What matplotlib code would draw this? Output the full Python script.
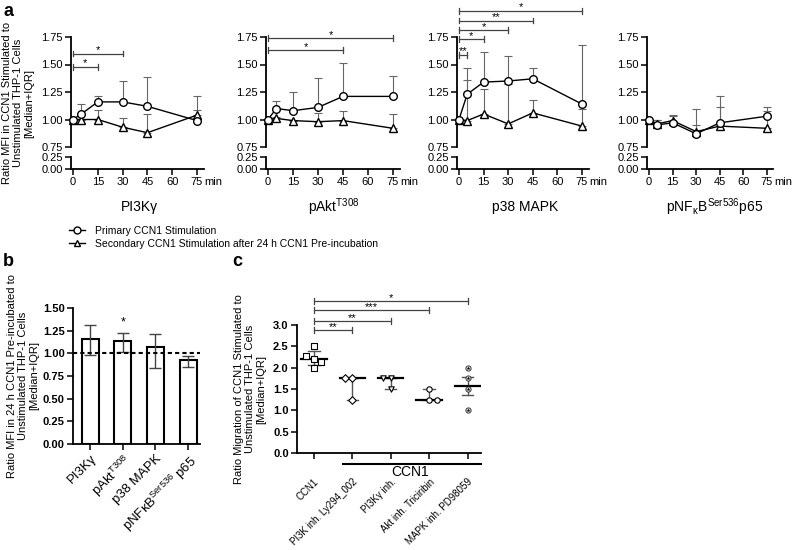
import numpy as np
import matplotlib
matplotlib.use('Agg')
import matplotlib.pyplot as plt
from matplotlib.lines import Line2D

plt.rcParams['font.family'] = ['Liberation Sans', 'DejaVu Sans']
plt.rcParams['mathtext.fontset'] = 'custom'
plt.rcParams['mathtext.rm'] = 'Liberation Sans'
plt.rcParams['mathtext.it'] = 'Liberation Sans:italic'
plt.rcParams['mathtext.bf'] = 'Liberation Sans:bold'

W, H = 793, 550

# ---- panel a data ----
times = [0, 5, 15, 30, 45, 75]
a_titles = ['PI3Kγ', 'pAkt$^{\\mathrm{T308}}$', 'p38 MAPK',
            'pNF$_{\\mathrm{κ}}$B$^{\\mathrm{Ser536}}$p65']
prim_med = [[1.00, 1.05, 1.16, 1.16, 1.12, 0.99],
            [1.00, 1.10, 1.08, 1.11, 1.21, 1.21],
            [1.00, 1.23, 1.34, 1.35, 1.37, 1.14],
            [1.00, 0.95, 0.97, 0.87, 0.97, 1.03]]
prim_up = [[1.00, 1.14, 1.21, 1.35, 1.39, 1.09],
           [1.00, 1.17, 1.25, 1.38, 1.51, 1.40],
           [1.00, 1.47, 1.61, 1.58, 1.47, 1.68],
           [1.00, 1.00, 1.03, 0.95, 1.21, 1.11]]
sec_med = [[1.00, 1.00, 1.00, 0.93, 0.88, 1.04],
           [1.00, 1.01, 0.99, 0.98, 0.99, 0.92],
           [1.00, 0.99, 1.05, 0.96, 1.06, 0.94],
           [1.00, 0.96, 0.99, 0.89, 0.94, 0.92]]
sec_up = [[1.00, 1.00, 1.09, 1.01, 1.05, 1.21],
          [1.00, 1.02, 1.00, 1.06, 1.08, 1.05],
          [1.00, 1.36, 1.28, 1.32, 1.18, 1.10],
          [1.00, 1.00, 1.04, 1.10, 1.11, 1.08]]
# significance: (end time, stars, bracket height)
a_sig = [[(15, '*', 1.48), (30, '*', 1.60)],
         [(45, '*', 1.63), (75, '*', 1.74)],
         [(5, '**', 1.59), (15, '*', 1.73), (30, '*', 1.81), (45, '**', 1.90), (75, '*', 1.99)],
         []]
legend_labels = ['Primary CCN1 Stimulation',
                 'Secondary CCN1 Stimulation after 24 h CCN1 Pre-incubation']

# ---- panel b data ----
b_labels = ['PI3Kγ', 'pAkt$^{\\mathrm{T308}}$', 'p38 MAPK', 'pNFκB$^{\\mathrm{Ser536}}$ p65']
b_med = [1.16, 1.14, 1.07, 0.93]
b_q1 = [0.98, 1.01, 0.84, 0.85]
b_q3 = [1.31, 1.22, 1.21, 0.97]
b_star = [None, '*', None, None]

# ---- panel c data ----
c_labels = ['CCN1', 'PI3K inh. Ly294_002', 'PI3Kγ inh.', 'Akt inh. Triciribin', 'MAPK inh. PD98059']
c_points = [[2.27, 2.5, 2.2, 2.13, 2.0],
            [1.75, 1.75, 1.25],
            [1.75, 1.75, 1.5],
            [1.5, 1.25, 1.25],
            [2.0, 1.75, 1.5, 1.0]]
c_median = [2.2, 1.75, 1.75, 1.25, 1.57]
c_q1 = [2.07, 1.25, 1.5, 1.25, 1.35]
c_q3 = [2.38, 1.75, 1.75, 1.5, 1.78]
# significance: (from, to, stars, height)
c_sig = [(0, 4, '*', 3.56), (0, 3, '***', 3.35), (0, 2, '**', 3.09), (0, 1, '**', 2.88)]

# layout helpers
c_jitter = [[-0.21, 0, 0, 0.18, 0], [-0.2, 0, 0], [-0.2, 0, 0], [0, 0, 0.2], [0, 0, 0, 0]]
c_markers = ['s', 'D', 'v', 'o', 'o']


def rect(l, t, r, b):
    return [l / W, 1 - b / H, (r - l) / W, (b - t) / H]


def bracket(ax, x0, x1, y, txt, h, fs=8, col='#444444'):
    ax.plot([x0, x1], [y, y], color=col, lw=0.9, clip_on=False)
    ax.plot([x0, x0], [y - h, y + h], color=col, lw=0.9, clip_on=False)
    ax.plot([x1, x1], [y - h, y + h], color=col, lw=0.9, clip_on=False)
    ax.text((x0 + x1) / 2, y - h * 0.6, txt, ha='center', va='bottom', fontsize=fs, clip_on=False)


fig = plt.figure(figsize=(W / 100, H / 100), dpi=100)

# ================= panel a =================
spine_px = [73, 268, 459, 649]
span_px = [124, 125, 123, 118]  # pixels for 75 min
for i, s in enumerate(spine_px):
    ppm = span_px[i] / 75
    l, r = s - 1 * ppm, s + 79 * ppm
    ax_t = fig.add_axes(rect(l, 37, r, 147))
    ax_b = fig.add_axes(rect(l, 157, r, 169))
    for ax in (ax_t, ax_b):
        ax.set_facecolor('none')
        ax.set_xlim(-1, 79)
        ax.spines['top'].set_visible(False)
        ax.spines['right'].set_visible(False)
        ax.spines['left'].set_linewidth(1.3)
        ax.spines['bottom'].set_linewidth(1.3)
        ax.tick_params(width=1.1, length=4, labelsize=8, pad=2)
    ax_t.spines['bottom'].set_visible(False)
    ax_t.set_xticks([])
    ax_t.set_ylim(0.75, 1.75)
    ax_t.set_yticks([0.75, 1.0, 1.25, 1.5, 1.75])
    ax_t.set_yticklabels(['%.2f' % v for v in [0.75, 1.0, 1.25, 1.5, 1.75]])
    ax_b.set_ylim(0, 0.25)
    ax_b.set_yticks([0, 0.25])
    ax_b.set_yticklabels(['0.00', '0.25'])
    ax_b.set_xticks([0, 15, 30, 45, 60, 75])
    ax_b.annotate('min', xy=(75, 0), xycoords='data', xytext=(5, -6), textcoords='offset points',
                  ha='left', va='top', fontsize=8)

    pm, pu = np.array(prim_med[i]), np.array(prim_up[i])
    sm, su = np.array(sec_med[i]), np.array(sec_up[i])
    ax_t.errorbar(times, sm, yerr=[np.zeros(len(sm)), su - sm], fmt='none', ecolor='#666666',
                  elinewidth=0.8, capsize=3, capthick=0.8, zorder=1)
    ax_t.errorbar(times, pm, yerr=[np.zeros(len(pm)), pu - pm], fmt='none', ecolor='#666666',
                  elinewidth=0.8, capsize=3, capthick=0.8, zorder=1)
    ax_t.plot(times, sm, '-', color='k', lw=1.0, marker='^', ms=5.5, mfc='white', mec='k',
              mew=1.0, clip_on=False, zorder=3)
    ax_t.plot(times, pm, '-', color='k', lw=1.0, marker='o', ms=5.5, mfc='white', mec='k',
              mew=1.0, clip_on=False, zorder=4)
    for t_end, txt, yb in a_sig[i]:
        bracket(ax_t, 0, t_end, yb, txt, 0.027)

    fig.text((s + 66) / W, 1 - 207 / H, a_titles[i], ha='center', va='center', fontsize=10)

fig.text(18 / W, 1 - 103 / H, 'Ratio MFI in CCN1 Stimulated to\nUnstimulated THP-1 Cells\n[Median+IQR]',
         rotation=90, ha='center', va='center', fontsize=8, linespacing=1.15)

handles = [Line2D([], [], color='k', lw=1.0, marker='o', ms=5, mfc='white', mec='k'),
           Line2D([], [], color='k', lw=1.0, marker='^', ms=5, mfc='white', mec='k')]
fig.legend(handles, legend_labels, loc='center left', bbox_to_anchor=(69 / W, 1 - 237.5 / H),
           frameon=False, fontsize=7.5, handlelength=1.5, labelspacing=0.3, handletextpad=1.0,
           borderaxespad=0, borderpad=0)

# ================= panel b =================
axb = fig.add_axes(rect(73, 308, 200, 444))
xb = np.arange(len(b_med))
bm, bl, bh = np.array(b_med), np.array(b_q1), np.array(b_q3)
axb.bar(xb, bm, width=0.52, color='white', edgecolor='k', linewidth=1.5, zorder=2)
axb.errorbar(xb, bm, yerr=[bm - bl, bh - bm], fmt='none', ecolor='#444444', elinewidth=1,
             capsize=4, capthick=1, zorder=3)
axb.axhline(1.0, color='k', lw=1.5, ls=(0, (2, 1.5)), zorder=4)
for x, st, top in zip(xb, b_star, bh):
    if st:
        axb.text(x, top + 0.12, st, ha='center', va='center', fontsize=9)
axb.set_xlim(-0.52, 3.36)
axb.set_ylim(0, 1.5)
axb.set_yticks(np.arange(0, 1.51, 0.25))
axb.set_yticklabels(['%.2f' % v for v in np.arange(0, 1.51, 0.25)], fontweight='bold')
axb.set_xticks(xb)
axb.set_xticklabels(b_labels, rotation=45, ha='right', rotation_mode='anchor', fontsize=9.5)
axb.spines['top'].set_visible(False)
axb.spines['right'].set_visible(False)
axb.spines['left'].set_linewidth(1.3)
axb.spines['bottom'].set_linewidth(1.3)
axb.tick_params(width=1.1, length=4, labelsize=8, pad=2)
axb.tick_params(axis='x', labelsize=9.5)
fig.text(23 / W, 1 - 376 / H, 'Ratio MFI in 24 h CCN1 Pre-incubated to\nUnstimulated THP-1 Cells\n[Median+IQR]',
         rotation=90, ha='center', va='center', fontsize=8, linespacing=1.15)

# ================= panel c =================
axc = fig.add_axes(rect(297, 325, 481, 453))
for i, pts in enumerate(c_points):
    xs = [i + j for j in c_jitter[i]]
    axc.plot([i, i], [c_q1[i], c_q3[i]], color='#555555', lw=1, zorder=2)
    axc.plot([i - 0.15, i + 0.15], [c_q1[i], c_q1[i]], color='#555555', lw=1, zorder=2)
    axc.plot([i - 0.15, i + 0.15], [c_q3[i], c_q3[i]], color='#555555', lw=1, zorder=2)
    axc.plot([i - 0.33, i + 0.33], [c_median[i], c_median[i]], color='k', lw=1.6, zorder=3)
    if i == 4:
        axc.scatter(xs, pts, marker='o', s=14, facecolor='white', edgecolor='#333333', lw=0.7, zorder=4)
        axc.scatter(xs, pts, marker='*', s=10, color='k', lw=0, zorder=5)
    else:
        axc.scatter(xs, pts, marker=c_markers[i], s=15, facecolor='white', edgecolor='k', lw=0.8, zorder=4)
for x0, x1, txt, yb in c_sig:
    bracket(axc, x0, x1, yb, txt, 0.07, fs=8)
axc.set_xlim(-0.44, 4.35)
axc.set_ylim(0, 3.0)
axc.set_yticks(np.arange(0, 3.01, 0.5))
axc.set_yticklabels(['%.1f' % v for v in np.arange(0, 3.01, 0.5)], fontweight='bold')
axc.set_xticks(range(len(c_labels)))
axc.set_xticklabels(c_labels, rotation=45, ha='right', rotation_mode='anchor', fontsize=7)
axc.spines['top'].set_visible(False)
axc.spines['right'].set_visible(False)
axc.spines['left'].set_linewidth(1.3)
axc.spines['bottom'].set_linewidth(1.3)
axc.tick_params(width=1.1, length=4, labelsize=8, pad=2)
axc.tick_params(axis='x', labelsize=7, pad=13)
axc.plot([0.76, 4.35], [-0.26, -0.26], color='k', lw=1.5, clip_on=False)
axc.text(2.5, -0.45, 'CCN1', ha='center', va='center', fontsize=10)
fig.text(250 / W, 1 - 389 / H, 'Ratio Migration of CCN1 Stimulated to\nUnstimulated THP-1 Cells\n[Median+IQR]',
         rotation=90, ha='center', va='center', fontsize=8, linespacing=1.15)

# panel letters
for lab, x, y in [('a', 8, 12), ('b', 8, 262), ('c', 237, 262)]:
    fig.text(x / W, 1 - y / H, lab, fontsize=13, fontweight='bold', ha='center', va='center')

fig.savefig('out.png', dpi=100)
